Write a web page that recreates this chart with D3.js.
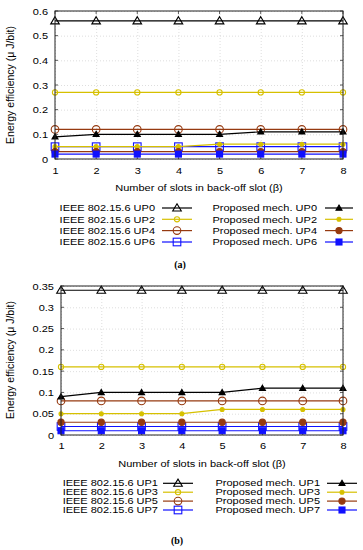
<!DOCTYPE html>
<html>
<head>
<meta charset="utf-8">
<script src="https://cdn.jsdelivr.net/npm/d3@7"></script>
<style>
  html, body { margin: 0; padding: 0; background: #fff; }
  svg { display: block; }
</style>
</head>
<body>
<div id="chart"></div>
<script>
const W = 363, H = 550;
const FONT = '"Liberation Sans", Arial, Helvetica, sans-serif';

// shared x values (number of slots in back-off slot)
const slots = [1, 2, 3, 4, 5, 6, 7, 8];

// panel (a) values
const ieeeUP0 = [0.56, 0.56, 0.56, 0.56, 0.56, 0.56, 0.56, 0.56];
const ieeeUP2 = [0.27, 0.27, 0.27, 0.27, 0.27, 0.27, 0.27, 0.27];
const ieeeUP4 = [0.12, 0.12, 0.12, 0.12, 0.12, 0.12, 0.12, 0.12];
const ieeeUP6 = [0.05, 0.05, 0.05, 0.05, 0.05, 0.05, 0.05, 0.05];
const propUP0 = [0.09, 0.10, 0.10, 0.10, 0.10, 0.11, 0.11, 0.11];
const propUP2 = [0.05, 0.05, 0.05, 0.05, 0.06, 0.06, 0.06, 0.06];
const propUP4 = [0.03, 0.03, 0.03, 0.03, 0.03, 0.03, 0.03, 0.03];
const propUP6 = [0.02, 0.02, 0.02, 0.02, 0.02, 0.02, 0.02, 0.02];

// panel (b) values
const ieeeUP1 = [0.34, 0.34, 0.34, 0.34, 0.34, 0.34, 0.34, 0.34];
const ieeeUP3 = [0.16, 0.16, 0.16, 0.16, 0.16, 0.16, 0.16, 0.16];
const ieeeUP5 = [0.08, 0.08, 0.08, 0.08, 0.08, 0.08, 0.08, 0.08];
const ieeeUP7 = [0.02, 0.02, 0.02, 0.02, 0.02, 0.02, 0.02, 0.02];
const propUP1 = [0.09, 0.10, 0.10, 0.10, 0.10, 0.11, 0.11, 0.11];
const propUP3 = [0.05, 0.05, 0.05, 0.05, 0.06, 0.06, 0.06, 0.06];
const propUP5 = [0.03, 0.03, 0.03, 0.03, 0.03, 0.03, 0.03, 0.03];
const propUP7 = [0.01, 0.01, 0.01, 0.01, 0.01, 0.01, 0.01, 0.01];

// tick labels
const yTicksA = [0, 0.1, 0.2, 0.3, 0.4, 0.5, 0.6];
const yTicksB = [0, 0.05, 0.1, 0.15, 0.2, 0.25, 0.3, 0.35];
const xTitle = 'Number of slots in back-off slot (\u03B2)';
const yTitle = 'Energy efficiency (\u03BC J/bit)';

// legend labels
const namesA = ['IEEE 802.15.6 UP0', 'IEEE 802.15.6 UP2', 'IEEE 802.15.6 UP4', 'IEEE 802.15.6 UP6',
                'Proposed mech. UP0', 'Proposed mech. UP2', 'Proposed mech. UP4', 'Proposed mech. UP6'];
const namesB = ['IEEE 802.15.6 UP1', 'IEEE 802.15.6 UP3', 'IEEE 802.15.6 UP5', 'IEEE 802.15.6 UP7',
                'Proposed mech. UP1', 'Proposed mech. UP3', 'Proposed mech. UP5', 'Proposed mech. UP7'];

const BLACK = '#000000', YELLOW = '#d6c000', BROWN = '#963a10', BLUE = '#1010ff';
// one style per legend slot: colour + marker shape
const styles = [
  { color: BLACK,  marker: 'triOpen' },
  { color: YELLOW, marker: 'circSmallOpen' },
  { color: BROWN,  marker: 'circOpen' },
  { color: BLUE,   marker: 'sqOpen' },
  { color: BLACK,  marker: 'triFilled' },
  { color: YELLOW, marker: 'circSmallFilled' },
  { color: BROWN,  marker: 'circFilled' },
  { color: BLUE,   marker: 'sqFilled' }
];

const panels = [
  {
    caption: '(a)', capX: 180, capY: 264, sy: 0.88,
    x0: 55, x1: 343, yTop: 11, yBot: 159, yMax: 0.6, yTicks: yTicksA,
    tickLabelY: 171, titleX: 199, titleY: 188, yTitleY: 85,
    rows: [208, 219.3, 230.6, 242], names: namesA,
    leftEnd: 155, leftLine: [162, 192], rightEnd: 317, rightLine: [325, 353],
    values: [ieeeUP0, ieeeUP2, ieeeUP4, ieeeUP6, propUP0, propUP2, propUP4, propUP6]
  },
  {
    caption: '(b)', capX: 177, capY: 540, sy: 0.78,
    x0: 61, x1: 343, yTop: 286, yBot: 435, yMax: 0.35, yTicks: yTicksB,
    tickLabelY: 446, titleX: 202, titleY: 464, yTitleY: 360,
    rows: [483.3, 492.2, 501.1, 510], names: namesB,
    leftEnd: 158, leftLine: [163, 193], rightEnd: 320, rightLine: [327, 357],
    values: [ieeeUP1, ieeeUP3, ieeeUP5, ieeeUP7, propUP1, propUP3, propUP5, propUP7]
  }
];

const svg = d3.select('#chart').append('svg')
  .attr('width', W).attr('height', H)
  .style('background', '#fff');

function label(g, x, y, s, anchor, sy, size) {
  return g.append('text')
    .attr('transform', `translate(${x},${y}) scale(1,${sy})`)
    .attr('text-anchor', anchor)
    .attr('dominant-baseline', 'central')
    .attr('font-family', FONT)
    .attr('font-size', size || 11)
    .attr('fill', '#000')
    .text(s);
}

function drawMarker(g, kind, color, x, y) {
  const fillColor = kind.endsWith('Filled') ? color : 'none';
  const base = g.append(kind.startsWith('tri') ? 'path' : kind.startsWith('sq') ? 'rect' : 'circle')
    .attr('stroke', color).attr('stroke-width', 1.1).attr('fill', fillColor);
  if (kind === 'triOpen') {
    base.attr('d', `M${x},${y - 4.2}L${x + 4.3},${y + 3}L${x - 4.3},${y + 3}Z`);
  } else if (kind === 'triFilled') {
    base.attr('d', `M${x},${y - 3}L${x + 3},${y + 2.2}L${x - 3},${y + 2.2}Z`);
  } else if (kind === 'circSmallOpen') {
    base.attr('cx', x).attr('cy', y).attr('r', 2.6);
  } else if (kind === 'circSmallFilled') {
    base.attr('cx', x).attr('cy', y).attr('r', 2);
  } else if (kind === 'circOpen') {
    base.attr('cx', x).attr('cy', y).attr('r', 3.8);
  } else if (kind === 'circFilled') {
    base.attr('cx', x).attr('cy', y).attr('r', 3.1);
  } else if (kind === 'sqOpen') {
    base.attr('x', x - 3.8).attr('y', y - 3.8).attr('width', 7.6).attr('height', 7.6);
  } else if (kind === 'sqFilled') {
    base.attr('x', x - 3).attr('y', y - 3).attr('width', 6).attr('height', 6);
  }
}

panels.forEach(p => {
  const g = svg.append('g');
  const x = d3.scaleLinear().domain([1, 8]).range([p.x0, p.x1]);
  const y = d3.scaleLinear().domain([0, p.yMax]).range([p.yBot, p.yTop]);
  const w = p.x1 - p.x0, h = p.yBot - p.yTop;

  // dotted grid
  const gx = g.append('g').attr('transform', `translate(0,${p.yBot})`)
    .call(d3.axisBottom(x).tickValues(slots).tickSize(-h).tickFormat(''));
  const gy = g.append('g').attr('transform', `translate(${p.x0},0)`)
    .call(d3.axisLeft(y).tickValues(p.yTicks).tickSize(-w).tickFormat(''));
  [gx, gy].forEach(a => {
    a.select('.domain').remove();
    a.selectAll('line').attr('stroke', '#c8c8c8').attr('stroke-width', 0.6).attr('stroke-dasharray', '1,2');
  });

  // axes with labels
  const ax = g.append('g').attr('transform', `translate(0,${p.yBot})`)
    .call(d3.axisBottom(x).tickValues(slots).tickSize(0).tickFormat(d3.format('d')));
  const ay = g.append('g').attr('transform', `translate(${p.x0},0)`)
    .call(d3.axisLeft(y).tickValues(p.yTicks).tickSize(0).tickFormat(d => String(d)));
  [ax, ay].forEach(a => { a.select('.domain').remove(); });
  ax.selectAll('text')
    .attr('y', null).attr('dy', null)
    .attr('dominant-baseline', 'central')
    .attr('font-family', FONT).attr('font-size', 11).attr('fill', '#000')
    .attr('transform', `translate(0,${p.tickLabelY - p.yBot}) scale(1,${p.sy})`);
  ay.selectAll('text')
    .attr('x', null).attr('dy', null)
    .attr('dominant-baseline', 'central')
    .attr('font-family', FONT).attr('font-size', 11).attr('fill', '#000')
    .attr('text-anchor', 'end')
    .attr('transform', `translate(-7,0) scale(1,${p.sy})`);

  // small inward tick marks on all sides
  const tk = g.append('g').attr('stroke', '#333').attr('stroke-width', 0.8);
  slots.forEach(v => {
    tk.append('line').attr('x1', x(v)).attr('x2', x(v)).attr('y1', p.yBot).attr('y2', p.yBot - 3);
    tk.append('line').attr('x1', x(v)).attr('x2', x(v)).attr('y1', p.yTop).attr('y2', p.yTop + 3);
  });
  p.yTicks.forEach(v => {
    tk.append('line').attr('x1', p.x0).attr('x2', p.x0 + 3).attr('y1', y(v)).attr('y2', y(v));
    tk.append('line').attr('x1', p.x1).attr('x2', p.x1 - 3).attr('y1', y(v)).attr('y2', y(v));
  });

  // series
  const line = d3.line().x((d, i) => x(slots[i])).y(d => y(d));
  p.values.forEach((vals, k) => {
    const st = styles[k];
    g.append('path').datum(vals)
      .attr('d', line)
      .attr('fill', 'none')
      .attr('stroke', st.color)
      .attr('stroke-width', 1.2);
    vals.forEach((v, i) => drawMarker(g, st.marker, st.color, x(slots[i]), y(v)));
  });

  // frame
  g.append('rect')
    .attr('x', p.x0).attr('y', p.yTop).attr('width', w).attr('height', h)
    .attr('fill', 'none').attr('stroke', '#222').attr('stroke-width', 1);

  // titles
  label(g, p.titleX, p.titleY, xTitle, 'middle', p.sy);
  g.append('text')
    .attr('transform', `translate(10,${p.yTitleY}) rotate(-90)`)
    .attr('text-anchor', 'middle')
    .attr('dominant-baseline', 'central')
    .attr('font-family', FONT)
    .attr('font-size', 10.5)
    .attr('fill', '#000')
    .text(yTitle);

  // legend: two columns of four rows
  p.names.forEach((name, k) => {
    const st = styles[k];
    const ry = p.rows[k % 4];
    const left = k < 4;
    const tEnd = left ? p.leftEnd : p.rightEnd;
    const ln = left ? p.leftLine : p.rightLine;
    label(g, tEnd, ry, name, 'end', p.sy);
    g.append('line')
      .attr('x1', ln[0]).attr('x2', ln[1]).attr('y1', ry).attr('y2', ry)
      .attr('stroke', st.color).attr('stroke-width', 1.2);
    drawMarker(g, st.marker, st.color, (ln[0] + ln[1]) / 2, ry);
  });

  // caption
  g.append('text')
    .attr('x', p.capX).attr('y', p.capY)
    .attr('text-anchor', 'middle')
    .attr('dominant-baseline', 'central')
    .attr('font-family', '"Liberation Serif", "Times New Roman", serif')
    .attr('font-weight', 'bold')
    .attr('font-size', 10)
    .attr('fill', '#000')
    .text(p.caption);
});
</script>
</body>
</html>
